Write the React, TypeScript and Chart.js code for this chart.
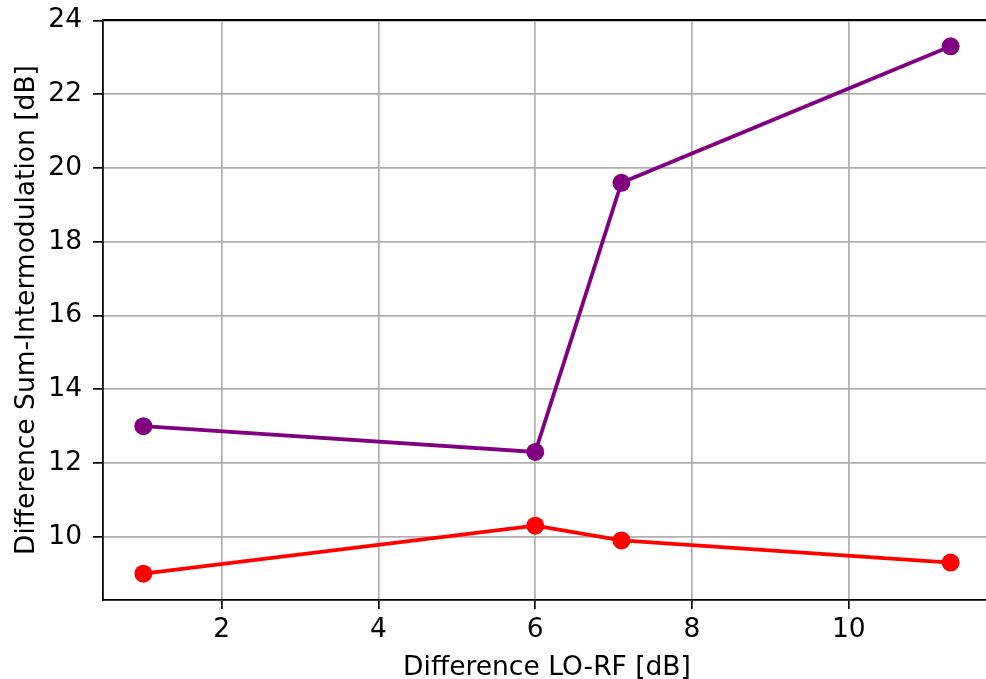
import React, { useEffect, useRef } from "react";
import { Chart, registerables } from "chart.js";

Chart.register(...registerables);

// LO-RF level difference (dB) for each measurement
const loRfDiff = [1.0, 6.0, 7.1, 11.3];
// Sum-intermodulation difference (dB), two measurement series
const purpleSeries = [13.0, 12.3, 19.6, 23.3];
const redSeries = [9.0, 10.3, 9.9, 9.3];

const xTicks = [2, 4, 6, 8, 10];
const yTicks = [10, 12, 14, 16, 18, 20, 22, 24];

const FONT = "'DejaVu Sans', sans-serif";
const FONT_SIZE = 26.5;
const GRID = "#b0b0b0";

const topSpine = {
  id: "topSpine",
  afterDraw(chart: any) {
    const { ctx, chartArea } = chart;
    ctx.save();
    ctx.strokeStyle = "#000";
    ctx.lineWidth = 1.8;
    ctx.beginPath();
    ctx.moveTo(chartArea.left - 0.9, chartArea.top);
    ctx.lineTo(chartArea.right + 10, chartArea.top);
    ctx.stroke();
    ctx.restore();
  },
};

export default function App() {
  const ref = useRef<HTMLCanvasElement>(null);

  useEffect(() => {
    if (!ref.current) return;
    const toPts = (ys: number[]) => ys.map((y, i) => ({ x: loRfDiff[i], y }));
    const chart = new Chart(ref.current, {
      type: "line",
      data: {
        datasets: [
          {
            data: toPts(purpleSeries),
            borderColor: "#800080",
            backgroundColor: "#800080",
            borderWidth: 3.8,
            pointRadius: 9,
            pointBorderWidth: 0,
            pointBackgroundColor: "#800080",
          },
          {
            data: toPts(redSeries),
            borderColor: "#ff0000",
            backgroundColor: "#ff0000",
            borderWidth: 3.8,
            pointRadius: 9,
            pointBorderWidth: 0,
            pointBackgroundColor: "#ff0000",
          },
        ],
      },
      options: {
        animation: false,
        responsive: false,
        maintainAspectRatio: false,
        layout: { padding: { left: 0, top: 20, right: 4, bottom: 0 } },
        plugins: { legend: { display: false }, tooltip: { enabled: false } },
        elements: { line: { tension: 0 } },
        scales: {
          x: {
            type: "linear",
            min: 0.485,
            max: 11.815,
            afterBuildTicks: (s: any) => {
              s.ticks = xTicks.map((v) => ({ value: v }));
            },
            afterFit: (s: any) => {
              s.height = 79;
              s.paddingLeft = 0;
              s.paddingRight = 0;
            },
            grid: { color: GRID, lineWidth: 1.7, tickColor: "#000", tickLength: 9, drawTicks: true },
            border: { color: "#000", width: 1.8 },
            ticks: { color: "#000", font: { family: FONT, size: FONT_SIZE }, padding: 5, maxRotation: 0 },
            title: {
              display: true,
              text: "Difference LO-RF [dB]",
              color: "#000",
              font: { family: FONT, size: FONT_SIZE, lineHeight: 0.8 },
              padding: { top: 0, bottom: 0 },
            },
          },
          y: {
            type: "linear",
            min: 8.285,
            max: 24.015,
            afterBuildTicks: (s: any) => {
              s.ticks = yTicks.map((v) => ({ value: v }));
            },
            afterFit: (s: any) => {
              s.width = 103;
              s.paddingTop = 0;
              s.paddingBottom = 0;
            },
            grid: { color: GRID, lineWidth: 1.7, tickColor: "#000", tickLength: 10, drawTicks: true },
            border: { color: "#000", width: 1.8 },
            ticks: { color: "#000", font: { family: FONT, size: FONT_SIZE }, padding: 11 },
            title: {
              display: true,
              text: "Difference Sum-Intermodulation [dB]",
              color: "#000",
              font: { family: FONT, size: FONT_SIZE },
              padding: { top: 11.5, bottom: 0 },
            },
          },
        },
      },
      plugins: [topSpine],
    });
    return () => chart.destroy();
  }, []);

  return (
    <div
      style={{
        position: "fixed",
        left: 0,
        top: 0,
        width: 986,
        height: 679,
        overflow: "hidden",
        background: "#fff",
      }}
    >
      <canvas ref={ref} width={1000} height={679} style={{ display: "block", width: 1000, height: 679 }} />
    </div>
  );
}
